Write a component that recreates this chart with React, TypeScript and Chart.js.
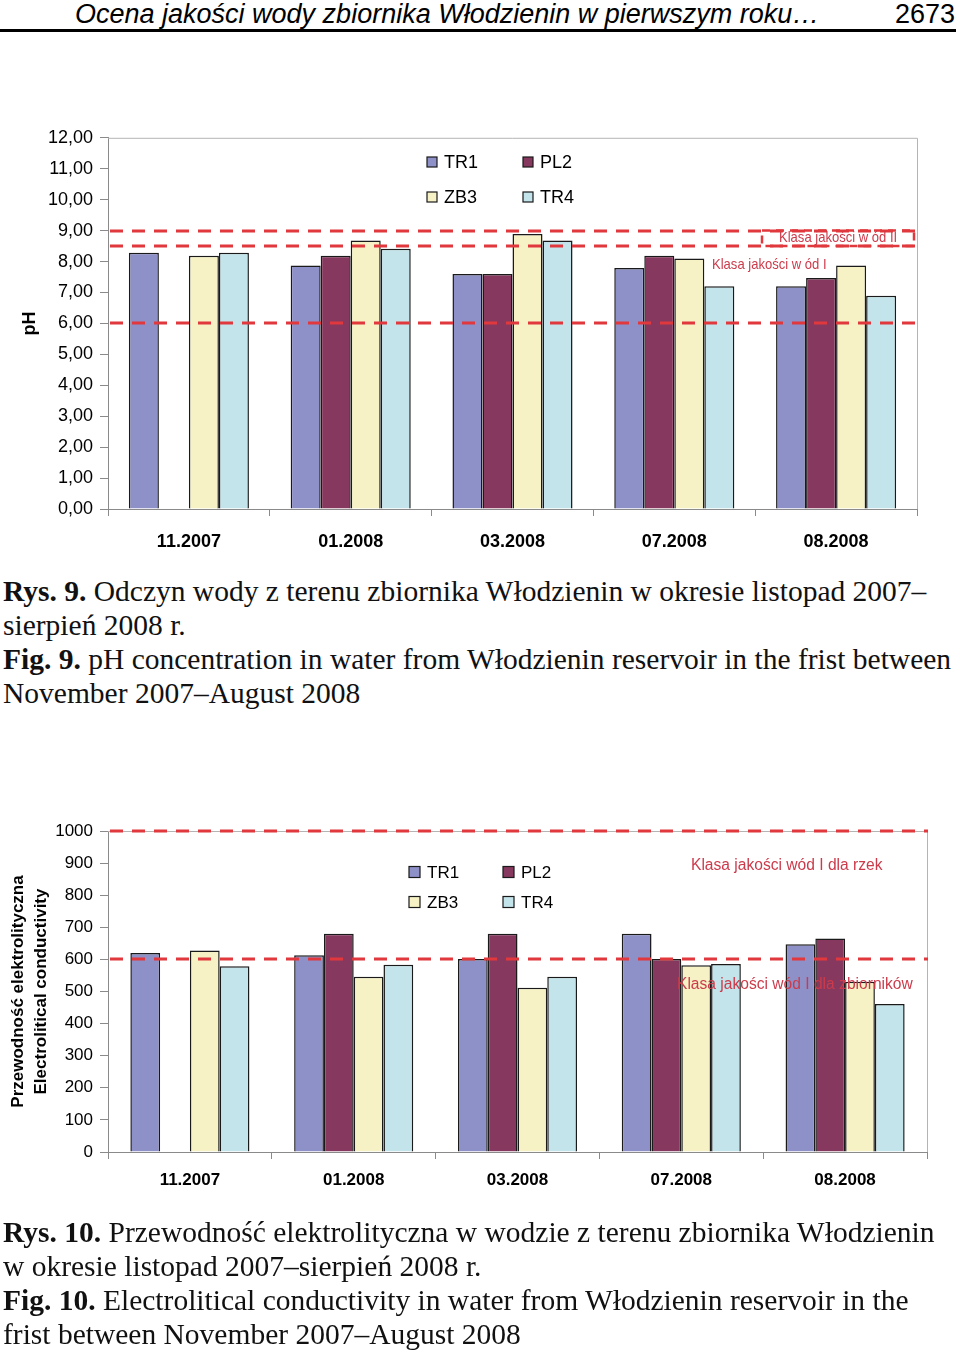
import React, { useEffect, useRef } from "react";
import { Chart, registerables } from "chart.js";

Chart.register(...registerables);

// ---------- data ----------
const categories = ["11.2007", "01.2008", "03.2008", "07.2008", "08.2008"];
const seriesNames = ["TR1", "PL2", "ZB3", "TR4"];

const phTR1 = [8.28, 7.87, 7.6, 7.79, 7.2];
const phPL2 = [null, 8.19, 7.6, 8.19, 7.47];
const phZB3 = [8.19, 8.68, 8.89, 8.1, 7.87];
const phTR4 = [8.28, 8.41, 8.68, 7.2, 6.89];
const phLimits = [9.0, 8.5, 6.0];
const phLimitLabels = ["Klasa jakości w ód II", "Klasa jakości w ód I"];
const phLabelValues = [8.75, 7.9];

const ecTR1 = [620, 613, 601, 680, 647];
const ecPL2 = [null, 680, 680, 601, 665];
const ecZB3 = [628, 546, 512, 582, 530];
const ecTR4 = [579, 583, 546, 586, 461];
const ecLimits = [1000, 600];
const ecLimitLabels = ["Klasa jakości wód I dla rzek", "Klasa jakości wód I dla zbiorników"];
const ecLabelValues = [893, 520];

// ---------- styles ----------
const seriesColors = ["#8e90c8", "#86385e", "#f6f2c6", "#c2e4ea"];
const SANS = "'Liberation Sans', Arial, sans-serif";
const SERIF = "'Liberation Serif', 'Times New Roman', serif";
const RED = "#e0383c";
const LABEL_RED = "#cc3b4b";

const decorPlugin = {
  id: "decor",
  beforeDatasetsDraw(chart: any) {
    const { ctx, chartArea } = chart;
    ctx.save();
    ctx.strokeStyle = "#b4b4b4";
    ctx.lineWidth = 1;
    ctx.beginPath();
    ctx.moveTo(chartArea.left, chartArea.top + 0.5);
    ctx.lineTo(chartArea.right + 0.5, chartArea.top + 0.5);
    ctx.lineTo(chartArea.right + 0.5, chartArea.bottom);
    ctx.stroke();
    ctx.restore();
  },
  afterDatasetsDraw(chart: any, _a: any, o: any) {
    const { ctx } = chart;
    const y = chart.scales.y;
    ctx.save();
    ctx.strokeStyle = RED;
    ctx.lineWidth = 3;
    ctx.setLineDash([13, 9]);
    o.limits.forEach((v: number) => {
      const py = Math.round(y.getPixelForValue(v));
      ctx.beginPath();
      ctx.moveTo(o.lineFrom, py);
      ctx.lineTo(o.lineTo, py);
      ctx.stroke();
    });
    if (o.box) {
      ctx.lineWidth = 2.5;
      ctx.setLineDash([8, 6]);
      const y0 = y.getPixelForValue(o.box.v0);
      const y1 = y.getPixelForValue(o.box.v1);
      ctx.strokeRect(o.box.x0, y0, o.box.x1 - o.box.x0, y1 - y0);
    }
    ctx.setLineDash([]);
    ctx.fillStyle = LABEL_RED;
    ctx.font = o.labelFont;
    ctx.textBaseline = "middle";
    ctx.textAlign = "left";
    o.labels.forEach((l: any, i: number) => {
      ctx.save();
      ctx.translate(o.labelX[i], y.getPixelForValue(o.labelValues[i]));
      ctx.scale(o.labelScaleX, 1);
      ctx.fillText(l, 0, 0);
      ctx.restore();
    });
    // legend
    ctx.font = o.legendFont;
    o.legend.forEach((it: any) => {
      const ds = chart.data.datasets[it.ds];
      const s = o.legendBox;
      ctx.fillStyle = ds.backgroundColor;
      ctx.fillRect(it.x, it.y - s / 2, s, s);
      ctx.strokeStyle = "#1a1a1a";
      ctx.lineWidth = 1.2;
      ctx.strokeRect(it.x, it.y - s / 2, s, s);
      ctx.fillStyle = "#000";
      ctx.fillText(ds.label, it.x + o.legendGap, it.y + 1);
    });
    ctx.restore();
  },
};

function makeConfig(p: any) {
  const datasets = p.series.map((d: any, i: number) => ({
    label: seriesNames[i],
    data: d,
    backgroundColor: seriesColors[i],
    borderColor: "#1a1a1a",
    borderWidth: 1.5,
    categoryPercentage: p.catPct,
    barPercentage: 1,
  }));
  return {
    type: "bar",
    data: { labels: categories, datasets },
    plugins: [decorPlugin],
    options: {
      responsive: false,
      animation: false,
      events: [],
      layout: { padding: { top: p.padTop, right: p.padRight, left: 0, bottom: 0 } },
      plugins: {
        legend: { display: false },
        tooltip: { enabled: false },
        decor: p.decor,
      },
      scales: {
        x: {
          grid: { drawOnChartArea: false, drawTicks: true, tickLength: 7, color: "#8a8a8a", offset: true },
          border: { color: "#8a8a8a" },
          ticks: { color: "#000", font: { family: SANS, size: p.xFont, weight: "bold" }, padding: p.xPad },
          afterFit: (s: any) => { s.height = p.xHeight; },
        },
        y: {
          min: 0,
          max: p.max,
          grid: { drawOnChartArea: false, drawTicks: true, tickLength: 8, color: "#8a8a8a" },
          border: { color: "#8a8a8a" },
          ticks: {
            stepSize: p.step,
            color: "#000",
            padding: 7,
            font: { family: SANS, size: p.yFont },
            callback: p.fmt,
          },
          title: {
            display: true,
            text: p.title,
            color: "#000",
            font: { family: SANS, size: p.titleFont, weight: "bold", lineHeight: p.titleLH },
            padding: { top: p.titlePad, bottom: 0 },
          },
          afterFit: (s: any) => { s.width = 108; },
        },
      },
    },
  };
}

function ChartCanvas({ config, top, height }: any) {
  const ref = useRef<HTMLCanvasElement>(null);
  useEffect(() => {
    const c = new Chart(ref.current as any, config as any);
    return () => c.destroy();
  }, []);
  return (
    <canvas
      ref={ref}
      width={960}
      height={height}
      style={{ position: "absolute", left: 0, top, width: 960, height, display: "block" }}
    />
  );
}

const TOP1 = 120;
const H1 = 450;
const TOP2 = 810;
const H2 = 410;

const config1 = makeConfig({
  series: [phTR1, phPL2, phZB3, phTR4],
  catPct: 0.742,
  padTop: 17,
  padRight: 43,
  xHeight: 61,
  xFont: 18,
  xPad: 15,
  yFont: 18,
  max: 12,
  step: 1,
  fmt: (v: number) => v.toFixed(2).replace(".", ","),
  title: "pH",
  titleFont: 18,
  titleLH: 1.2,
  titlePad: 19,
  decor: {
    limits: phLimits,
    lineFrom: 110,
    lineTo: 923,
    box: { x0: 762, x1: 914, v0: 9.0, v1: 8.5 },
    labels: phLimitLabels,
    labelValues: phLabelValues,
    labelX: [779, 712],
    labelFont: `14.5px ${SANS}`,
    labelScaleX: 0.9,
    legendFont: `18px ${SANS}`,
    legendBox: 10,
    legendGap: 17,
    legend: [
      { ds: 0, x: 427, y: 162 - TOP1 },
      { ds: 2, x: 427, y: 197 - TOP1 },
      { ds: 1, x: 523, y: 162 - TOP1 },
      { ds: 3, x: 523, y: 197 - TOP1 },
    ],
  },
});

const config2 = makeConfig({
  series: [ecTR1, ecPL2, ecZB3, ecTR4],
  catPct: 0.727,
  padTop: 21,
  padRight: 33,
  xHeight: H2 - (1152 - TOP2),
  xFont: 17,
  xPad: 11,
  yFont: 17,
  max: 1000,
  step: 100,
  fmt: (v: number) => String(v),
  title: ["Przewodność elektrolityczna", "Electrolitical conductivity"],
  titleFont: 17,
  titleLH: 1.4,
  titlePad: 6,
  decor: {
    limits: ecLimits,
    lineFrom: 110,
    lineTo: 928,
    box: null,
    labels: ecLimitLabels,
    labelValues: ecLabelValues,
    labelX: [691, 677],
    labelFont: `15.6px ${SANS}`,
    labelScaleX: 1,
    legendFont: `17px ${SANS}`,
    legendBox: 11,
    legendGap: 18,
    legend: [
      { ds: 0, x: 409, y: 872 - TOP2 },
      { ds: 2, x: 409, y: 902 - TOP2 },
      { ds: 1, x: 503, y: 872 - TOP2 },
      { ds: 3, x: 503, y: 902 - TOP2 },
    ],
  },
});

const captionStyle: any = {
  position: "absolute",
  left: 3,
  fontFamily: SERIF,
  fontSize: 29.5,
  lineHeight: "34px",
  color: "#111",
  whiteSpace: "nowrap",
};

export default function App() {
  return (
    <div style={{ position: "absolute", left: 0, top: 0, width: 960, height: 1352, background: "#fff", overflow: "hidden" }}>
      <div
        style={{
          position: "absolute",
          left: 75,
          top: 1,
          fontFamily: SANS,
          fontStyle: "italic",
          fontSize: 27,
          lineHeight: "27px",
          whiteSpace: "nowrap",
          color: "#000",
        }}
      >
        Ocena jakości wody zbiornika Włodzienin w pierwszym roku…
      </div>
      <div
        style={{
          position: "absolute",
          right: 5,
          top: 1,
          fontFamily: SANS,
          fontSize: 27,
          lineHeight: "27px",
          color: "#000",
        }}
      >
        2673
      </div>
      <div style={{ position: "absolute", left: 0, top: 29, width: 956, height: 3, background: "#000" }} />

      <ChartCanvas config={config1} top={TOP1} height={H1} />

      <div style={{ ...captionStyle, top: 574 }}>
        <b>Rys. 9.</b> Odczyn wody z terenu zbiornika Włodzienin w okresie listopad 2007–
        <br />
        sierpień 2008 r.
        <br />
        <b>Fig. 9.</b> pH concentration in water from Włodzienin reservoir in the frist between
        <br />
        November 2007–August 2008
      </div>

      <ChartCanvas config={config2} top={TOP2} height={H2} />

      <div style={{ ...captionStyle, top: 1215 }}>
        <b>Rys. 10.</b> Przewodność elektrolityczna w wodzie z terenu zbiornika Włodzienin
        <br />
        w okresie listopad 2007–sierpień 2008 r.
        <br />
        <b>Fig. 10.</b> Electrolitical conductivity in water from Włodzienin reservoir in the
        <br />
        frist between November 2007–August 2008
      </div>
    </div>
  );
}
